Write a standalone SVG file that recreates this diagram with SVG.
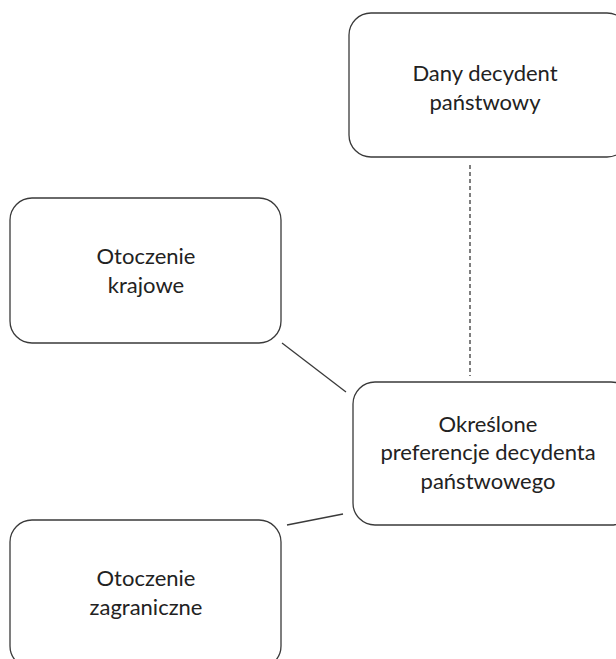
<svg xmlns="http://www.w3.org/2000/svg" width="616" height="659" viewBox="0 0 616 659">
  <style>
    .box { fill: #ffffff; stroke: #3a3a3a; stroke-width: 1.3; }
    .label { font-family: Lato, "Open Sans", "Liberation Sans", sans-serif; font-size: 22px; fill: #222222; text-anchor: middle; }
    .link { stroke: #3a3a3a; stroke-width: 1.3; fill: none; }
    .dashed { stroke-dasharray: 4 3; }
  </style>
  <rect width="616" height="659" fill="#ffffff"/>
  <g id="connectors">
    <line class="link dashed" x1="470" y1="165" x2="470" y2="376"/>
    <line class="link" x1="282" y1="343" x2="346" y2="392"/>
    <line class="link" x1="287" y1="525" x2="343" y2="514"/>
  </g>
  <g id="decydent">
    <rect class="box" x="349" y="13" width="280" height="144" rx="22"/>
    <text class="label" x="485" y="81">Dany decydent</text>
    <text class="label" x="485" y="110">państwowy</text>
  </g>
  <g id="krajowe">
    <rect class="box" x="10" y="198" width="271" height="145" rx="22"/>
    <text class="label" x="146" y="264">Otoczenie</text>
    <text class="label" x="146" y="293">krajowe</text>
  </g>
  <g id="preferencje">
    <rect class="box" x="353" y="382" width="280" height="143" rx="22"/>
    <text class="label" x="488" y="432">Określone</text>
    <text class="label" x="488" y="460">preferencje decydenta</text>
    <text class="label" x="488" y="489">państwowego</text>
  </g>
  <g id="zagraniczne">
    <rect class="box" x="10" y="520" width="271" height="148" rx="22"/>
    <text class="label" x="146" y="586">Otoczenie</text>
    <text class="label" x="146" y="615">zagraniczne</text>
  </g>
</svg>
